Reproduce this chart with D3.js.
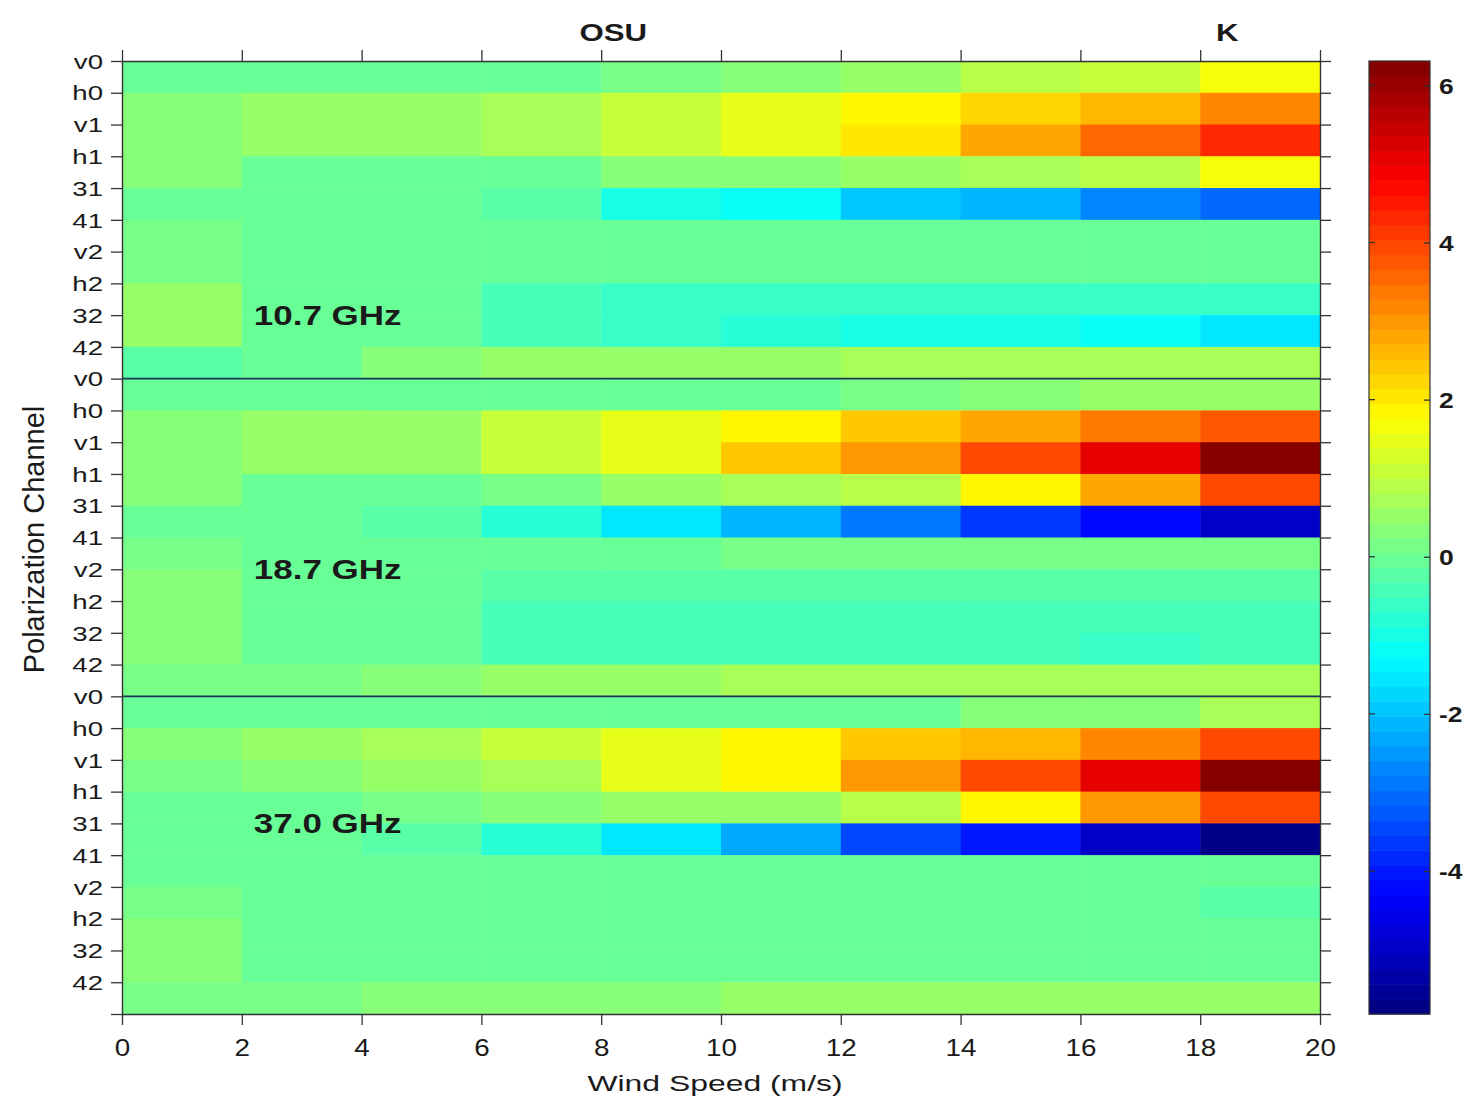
<!DOCTYPE html>
<html>
<head>
<meta charset="utf-8">
<script src="https://cdn.jsdelivr.net/npm/d3@7"></script>
<style>
  body { margin: 0; background: #fff; }
  svg { display: block; }
  text { font-family: "Liberation Sans", Arial, sans-serif; fill: #1a1a1a; }
</style>
</head>
<body>
<svg id="chart" width="1475" height="1098"></svg>
<script>
// Wind-speed bins (lower edges, m/s) and axis ticks
const windBins = [0, 2, 4, 6, 8, 10, 12, 14, 16, 18];
const binWidth = 2;
const windTicks = [0, 2, 4, 6, 8, 10, 12, 14, 16, 18, 20];

// Polarization channels, repeated for every frequency band
const channels = ["v0", "h0", "v1", "h1", "31", "41", "v2", "h2", "32", "42"];
const bandNames = ["10.7 GHz", "18.7 GHz", "37.0 GHz"];

// One row per channel, one column per wind-speed bin
const values107 = [
  [0.05, 0.05, 0.05, 0.05, 0.15, 0.30, 0.55, 1.00, 1.15, 1.60],
  [0.40, 0.45, 0.45, 0.70, 1.15, 1.45, 1.80, 2.20, 2.55, 3.20],
  [0.40, 0.45, 0.45, 0.70, 1.15, 1.45, 2.10, 2.75, 3.50, 4.40],
  [0.35, 0.05, 0.05, 0.05, 0.30, 0.35, 0.45, 0.65, 0.90, 1.60],
  [0.05, -0.05, -0.10, -0.30, -1.00, -1.27, -1.90, -2.15, -2.60, -3.10],
  [0.10, 0.05, 0.05, 0.05, 0.05, 0.05, 0.05, 0.05, 0.05, 0.05],
  [0.10, 0.05, 0.05, 0.05, 0.00, 0.00, 0.00, 0.00, 0.00, 0.00],
  [0.45, 0.05, 0.00, -0.40, -0.60, -0.60, -0.65, -0.65, -0.65, -0.60],
  [0.45, 0.05, 0.00, -0.40, -0.70, -0.85, -0.95, -0.95, -1.27, -1.60],
  [-0.15, 0.05, 0.35, 0.45, 0.55, 0.55, 0.65, 0.80, 0.80, 0.70]
];
const values187 = [
  [-0.10, -0.10, -0.10, -0.10, -0.05, 0.00, 0.15, 0.35, 0.50, 0.60],
  [0.35, 0.55, 0.55, 1.15, 1.50, 1.80, 2.35, 2.75, 3.30, 3.80],
  [0.35, 0.45, 0.50, 1.10, 1.50, 2.40, 3.00, 3.85, 5.00, 6.25],
  [0.30, 0.05, 0.05, 0.10, 0.45, 0.65, 1.00, 1.80, 2.75, 3.85],
  [0.05, -0.10, -0.30, -0.75, -1.50, -2.10, -2.80, -3.55, -4.30, -5.00],
  [0.10, 0.05, 0.05, 0.05, 0.05, 0.10, 0.10, 0.10, 0.10, 0.10],
  [0.30, 0.05, 0.00, -0.20, -0.30, -0.30, -0.30, -0.30, -0.30, -0.30],
  [0.30, 0.05, -0.10, -0.40, -0.40, -0.40, -0.40, -0.40, -0.40, -0.45],
  [0.30, 0.05, -0.10, -0.35, -0.40, -0.50, -0.50, -0.50, -0.60, -0.50],
  [0.20, 0.15, 0.35, 0.55, 0.55, 0.65, 0.70, 0.80, 0.75, 0.75]
];
const values370 = [
  [-0.10, -0.10, -0.10, -0.10, -0.10, -0.10, -0.10, 0.30, 0.40, 0.80],
  [0.35, 0.45, 0.65, 1.15, 1.50, 1.95, 2.35, 2.65, 3.20, 3.85],
  [0.10, 0.35, 0.55, 0.70, 1.50, 1.95, 2.90, 3.85, 5.00, 6.20],
  [0.05, 0.05, 0.15, 0.30, 0.45, 0.55, 0.90, 1.80, 3.00, 3.95],
  [0.00, -0.10, -0.30, -0.75, -1.60, -2.40, -3.40, -4.10, -4.90, -5.80],
  [0.05, 0.05, 0.05, 0.05, 0.05, 0.05, 0.05, 0.05, 0.05, 0.05],
  [0.15, 0.05, 0.00, 0.00, 0.00, 0.00, 0.00, 0.00, 0.00, -0.20],
  [0.30, 0.00, -0.10, -0.10, -0.10, -0.10, -0.10, -0.10, -0.10, -0.10],
  [0.30, 0.00, -0.10, -0.10, -0.10, -0.10, -0.10, -0.10, -0.10, -0.10],
  [0.15, 0.15, 0.35, 0.35, 0.35, 0.45, 0.45, 0.45, 0.45, 0.45]
];

// Colour limits and colour-bar ticks
const colorLimits = [-5.82, 6.31];
const colorbarTicks = [-4, -2, 0, 2, 4, 6];
const colorLevels = 64;

// Labels written above the top axis, placed at wind speeds
const topLabels = ["OSU", "K"];
const topLabelSpeeds = [8.2, 18.45];

// ---------------------------------------------------------------------------
const svg = d3.select("#chart");
const plot = { left: 122, right: 1320, top: 61, bottom: 1014 };
const cbar = { left: 1369, right: 1430 };
const axisColor = "#333";

const blocks = [values107, values187, values370];
const rows = blocks.flat();                       // 30 rows
const nRows = rows.length;

const x = d3.scaleLinear().domain([0, 20]).range([plot.left, plot.right]);
const y = d3.scaleLinear().domain([0, nRows]).range([plot.top, plot.bottom]);

// MATLAB-style jet colormap, quantised to 64 levels
function jet(t) {
  const c = v => Math.max(0, Math.min(1, v));
  return d3.rgb(255 * c(1.5 - Math.abs(4 * t - 3)),
                255 * c(1.5 - Math.abs(4 * t - 2)),
                255 * c(1.5 - Math.abs(4 * t - 1)));
}
const toUnit = d3.scaleLinear().domain(colorLimits).range([0, 1]).clamp(true);
function colorOf(v) {
  const idx = Math.min(colorLevels - 1, Math.floor(toUnit(v) * colorLevels));
  return jet((idx + 0.5) / colorLevels).toString();
}

// Horizontally widen a text element about its own anchor
function widen(sel, sx) {
  sel.each(function () {
    const t = d3.select(this);
    const x0 = +t.attr("x") || 0;
    t.attr("x", x0 / sx).attr("transform", `scale(${sx},1)`);
  });
}

// Heat-map cells
const cells = [];
rows.forEach((row, r) => row.forEach((v, c) => cells.push({ r, c, v })));
svg.append("g").selectAll("rect").data(cells).join("rect")
  .attr("x", d => x(windBins[d.c]))
  .attr("y", d => y(d.r))
  .attr("width", d => x(windBins[d.c] + binWidth) - x(windBins[d.c]) + 0.5)
  .attr("height", d => y(d.r + 1) - y(d.r) + 0.5)
  .attr("fill", d => colorOf(d.v));

// Lines separating the frequency bands
svg.append("g").selectAll("line").data([10, 20]).join("line")
  .attr("x1", plot.left).attr("x2", plot.right)
  .attr("y1", d => y(d)).attr("y2", d => y(d))
  .attr("stroke", "#1d3358").attr("stroke-width", 1.6);

// Axes
function styleAxis(g) {
  g.selectAll(".domain").attr("stroke", axisColor).attr("stroke-width", 1.4);
  g.selectAll(".tick line").attr("stroke", axisColor).attr("stroke-width", 1.3);
  g.attr("font-family", null).attr("font-size", null);
}

const rowTicks = d3.range(nRows + 1);
const gLeft = svg.append("g").attr("transform", `translate(${plot.left},0)`)
  .call(d3.axisLeft(y).tickValues(rowTicks)
    .tickFormat(i => i < nRows ? channels[i % channels.length] : "")
    .tickSize(11).tickPadding(8).tickSizeOuter(0))
  .call(styleAxis);
gLeft.selectAll(".tick text").style("font-size", "20px").attr("dy", "0.36em");
widen(gLeft.selectAll(".tick text"), 1.38);

svg.append("g").attr("transform", `translate(${plot.right},0)`)
  .call(d3.axisRight(y).tickValues(rowTicks).tickFormat("").tickSize(11).tickSizeOuter(0))
  .call(styleAxis);

const gBottom = svg.append("g").attr("transform", `translate(0,${plot.bottom})`)
  .call(d3.axisBottom(x).tickValues(windTicks).tickFormat(d => String(d))
    .tickSize(11).tickPadding(14).tickSizeOuter(0))
  .call(styleAxis);
gBottom.selectAll(".tick text").style("font-size", "24px");
widen(gBottom.selectAll(".tick text"), 1.16);

svg.append("g").attr("transform", `translate(0,${plot.top})`)
  .call(d3.axisTop(x).tickValues(windTicks).tickFormat("").tickSize(11).tickSizeOuter(0))
  .call(styleAxis);

// Axis titles
svg.append("g").attr("transform", `translate(${x(10) - 6},1091)`)
  .append("text").attr("text-anchor", "middle").style("font-size", "22px")
  .attr("transform", "scale(1.45,1)").text("Wind Speed (m/s)");

svg.append("text")
  .attr("transform", `translate(44,${(plot.top + plot.bottom) / 2 + 2}) rotate(-90)`)
  .attr("text-anchor", "middle").style("font-size", "29px")
  .text("Polarization Channel");

// Band labels inside the plot
svg.append("g").selectAll("g").data(bandNames).join("g")
  .attr("transform", (d, i) => `translate(${x(2.2)},${y([8, 16, 24][i]) + 10})`)
  .append("text").style("font-size", "28px").style("font-weight", "bold")
  .attr("transform", "scale(1.25,1)").text(d => d);

// Labels above the top axis
svg.append("g").selectAll("g").data(topLabels).join("g")
  .attr("transform", (d, i) => `translate(${x(topLabelSpeeds[i])},41)`)
  .append("text").attr("text-anchor", "middle")
  .style("font-size", "24px").style("font-weight", "bold")
  .attr("transform", "scale(1.3,1)").text(d => d);

// Colour bar
const cy = d3.scaleLinear().domain(colorLimits).range([plot.bottom, plot.top]);
const levelStep = (colorLimits[1] - colorLimits[0]) / colorLevels;
const levels = d3.range(colorLevels).map(i => colorLimits[0] + i * levelStep);
svg.append("g").selectAll("rect").data(levels).join("rect")
  .attr("x", cbar.left).attr("width", cbar.right - cbar.left)
  .attr("y", d => cy(d + levelStep))
  .attr("height", d => cy(d) - cy(d + levelStep) + 0.6)
  .attr("fill", d => colorOf(d + levelStep / 2));
svg.append("rect")
  .attr("x", cbar.left).attr("y", plot.top)
  .attr("width", cbar.right - cbar.left).attr("height", plot.bottom - plot.top)
  .attr("fill", "none").attr("stroke", axisColor).attr("stroke-width", 1.2);

const gCb = svg.append("g").attr("transform", `translate(${cbar.right},0)`)
  .call(d3.axisLeft(cy).tickValues(colorbarTicks).tickFormat(d => String(d))
    .tickSize(6).tickSizeOuter(0))
  .call(styleAxis);
gCb.select(".domain").remove();
gCb.selectAll(".tick text").attr("x", 9).attr("text-anchor", "start")
  .style("font-size", "22px").style("font-weight", "bold").attr("dy", "0.36em");
widen(gCb.selectAll(".tick text"), 1.2);
svg.append("g").selectAll("line").data(colorbarTicks).join("line")
  .attr("x1", cbar.left).attr("x2", cbar.left + 6)
  .attr("y1", d => cy(d)).attr("y2", d => cy(d))
  .attr("stroke", axisColor).attr("stroke-width", 1.3);
</script>
</body>
</html>
